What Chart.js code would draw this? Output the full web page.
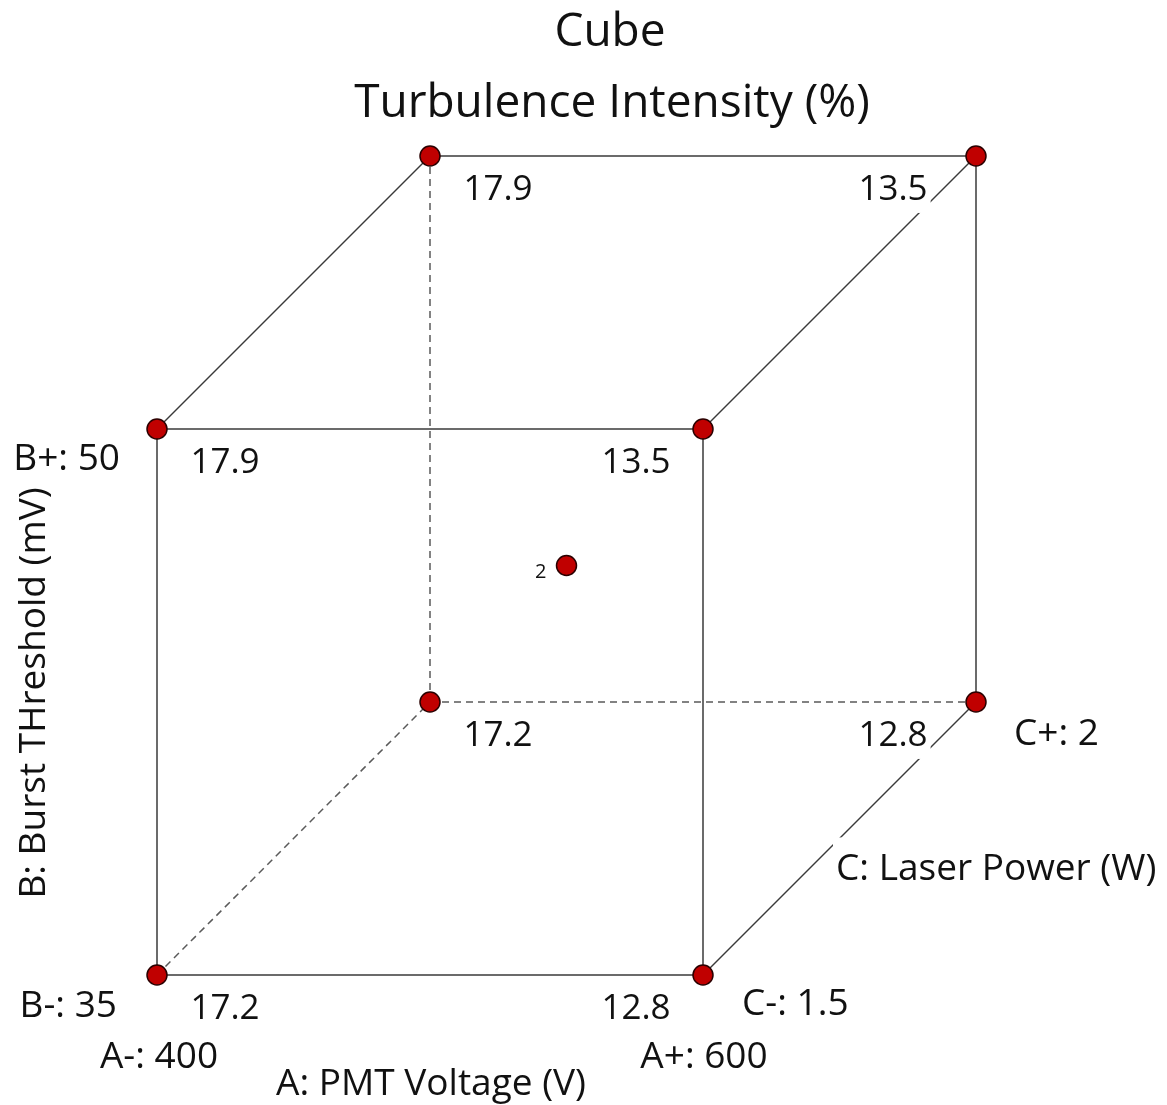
<!DOCTYPE html>
<html>
<head>
<meta charset="utf-8">
<title>Cube</title>
<script src="https://cdn.jsdelivr.net/npm/chart.js@4.4.1/dist/chart.umd.min.js"></script>
<style>
  html, body { margin: 0; padding: 0; background: #fff; }
  #wrap { position: relative; width: 1167px; height: 1105px; }
</style>
</head>
<body>
<div id="wrap"><canvas id="cube"></canvas></div>
<script>
// factors and their levels
const factorNames = ['A: PMT Voltage (V)', 'B: Burst THreshold (mV)', 'C: Laser Power (W)'];
const lowLevels = ['A-: 400', 'B-: 35', 'C-: 1.5'];
const highLevels = ['A+: 600', 'B+: 50', 'C+: 2'];

// corner runs in standard order, coded -1 / +1
const codedA = [-1, 1, -1, 1, -1, 1, -1, 1];
const codedB = [-1, -1, 1, 1, -1, -1, 1, 1];
const codedC = [-1, -1, -1, -1, 1, 1, 1, 1];
const cornerMeans = [17.2, 12.8, 17.9, 13.5, 17.2, 12.8, 17.9, 13.5];
const centerRuns = 2;

const titleLines = ['Cube', 'Turbulence Intensity (%)'];

const FONT = "'Open Sans', 'Noto Sans', sans-serif";
const DEPTH = 0.5;          // how far the back face is pushed up/right
const HIDDEN = 4;           // corner A-, B-, C+ sits behind the cube

// oblique projection of coded levels onto the 2D scales
function project(a, b, c) {
  return {
    x: (a + 1) / 2 + DEPTH * (c + 1) / 2,
    y: (b + 1) / 2 + DEPTH * (c + 1) / 2
  };
}

const corners = codedA.map((a, i) => project(a, codedB[i], codedC[i]));
const centerPoint = project(0, 0, 0);

// every pair of corners that differs in exactly one factor is an edge
const edges = [];
for (let i = 0; i < 8; i++) {
  for (let j = i + 1; j < 8; j++) {
    const diff = (codedA[i] !== codedA[j]) + (codedB[i] !== codedB[j]) + (codedC[i] !== codedC[j]);
    if (diff === 1) edges.push({ from: i, to: j, hidden: i === HIDDEN || j === HIDDEN });
  }
}

const edgeSets = edges.map(e => ({
  type: 'scatter',
  data: [corners[e.from], corners[e.to]],
  showLine: true,
  borderColor: e.hidden ? '#5a5a5a' : '#3a3a3a',
  borderWidth: 1.5,
  borderDash: e.hidden ? [7, 5] : [],
  pointRadius: 0,
  clip: false,
  order: 2
}));

const pointSet = {
  type: 'scatter',
  data: corners.concat([centerPoint]),
  backgroundColor: '#c00000',
  borderColor: '#2a0000',
  borderWidth: 1.5,
  pointRadius: 10,
  clip: false,
  order: 0
};

function label(ctx, text, x, y, size, align, boxed) {
  ctx.font = size + 'px ' + FONT;
  ctx.textAlign = align;
  ctx.textBaseline = 'alphabetic';
  if (boxed) {
    const w = ctx.measureText(text).width;
    const left = align === 'center' ? x - w / 2 : (align === 'right' ? x - w : x);
    ctx.fillStyle = '#ffffff';
    ctx.fillRect(left - 3, y - size * 1.15, w + 6, size * 1.52);
  }
  ctx.fillStyle = '#111111';
  ctx.fillText(text, x, y);
}

const cubeLabels = {
  id: 'cubeLabels',
  afterDatasetsDraw(chart) {
    const ctx = chart.ctx;
    const sx = chart.scales.x, sy = chart.scales.y;
    const px = p => sx.getPixelForValue(p.x);
    const py = p => sy.getPixelForValue(p.y);
    ctx.save();

    // title
    label(ctx, titleLines[0], 610, 46, 46, 'center', false);
    label(ctx, titleLines[1], 612, 117, 46, 'center', false);

    // response means at the corners
    corners.forEach((p, i) => {
      let dx = codedA[i] < 0 ? 68 : (codedC[i] < 0 ? -67 : -83);
      label(ctx, cornerMeans[i].toFixed(1), px(p) + dx, py(p) + 44, 35, 'center', true);
    });

    // center point replicate count
    label(ctx, String(centerRuns), px(centerPoint) - 20, py(centerPoint) + 12, 20, 'right', false);

    // factor A along the front bottom edge
    label(ctx, lowLevels[0], px(corners[0]) + 2, py(corners[0]) + 93, 37, 'center', true);
    label(ctx, highLevels[0], px(corners[1]) + 1, py(corners[1]) + 93, 37, 'center', true);
    const aMid = project(0, -1, -1);
    label(ctx, factorNames[0], px(aMid) + 1, py(aMid) + 120, 37, 'center', true);

    // factor B along the front left edge
    label(ctx, lowLevels[1], px(corners[0]) - 40, py(corners[0]) + 42, 37, 'right', true);
    label(ctx, highLevels[1], px(corners[2]) - 37, py(corners[2]) + 41, 37, 'right', true);
    const bMid = project(-1, 0, -1);
    ctx.save();
    ctx.translate(px(bMid) - 112, py(bMid) - 9);
    ctx.rotate(-Math.PI / 2);
    label(ctx, factorNames[1], 0, 0, 37, 'center', false);
    ctx.restore();

    // factor C along the bottom right depth edge
    label(ctx, lowLevels[2], px(corners[1]) + 39, py(corners[1]) + 40, 37, 'left', true);
    label(ctx, highLevels[2], px(corners[5]) + 38, py(corners[5]) + 43, 37, 'left', true);
    const cMid = project(1, -1, 0);
    label(ctx, factorNames[2], px(cMid) - 3.5, py(cMid) + 41.5, 37, 'left', true);

    ctx.restore();
  }
};

new Chart(document.getElementById('cube'), {
  type: 'scatter',
  data: { datasets: [pointSet].concat(edgeSets) },
  options: {
    responsive: true,
    maintainAspectRatio: false,
    animation: false,
    events: [],
    layout: { padding: { left: 157, right: 191, top: 156, bottom: 130 } },
    scales: {
      x: { type: 'linear', min: 0, max: 1.5, display: false },
      y: { type: 'linear', min: 0, max: 1.5, display: false }
    },
    plugins: {
      legend: { display: false },
      tooltip: { enabled: false },
      title: { display: false }
    }
  },
  plugins: [cubeLabels]
});
</script>
</body>
</html>
